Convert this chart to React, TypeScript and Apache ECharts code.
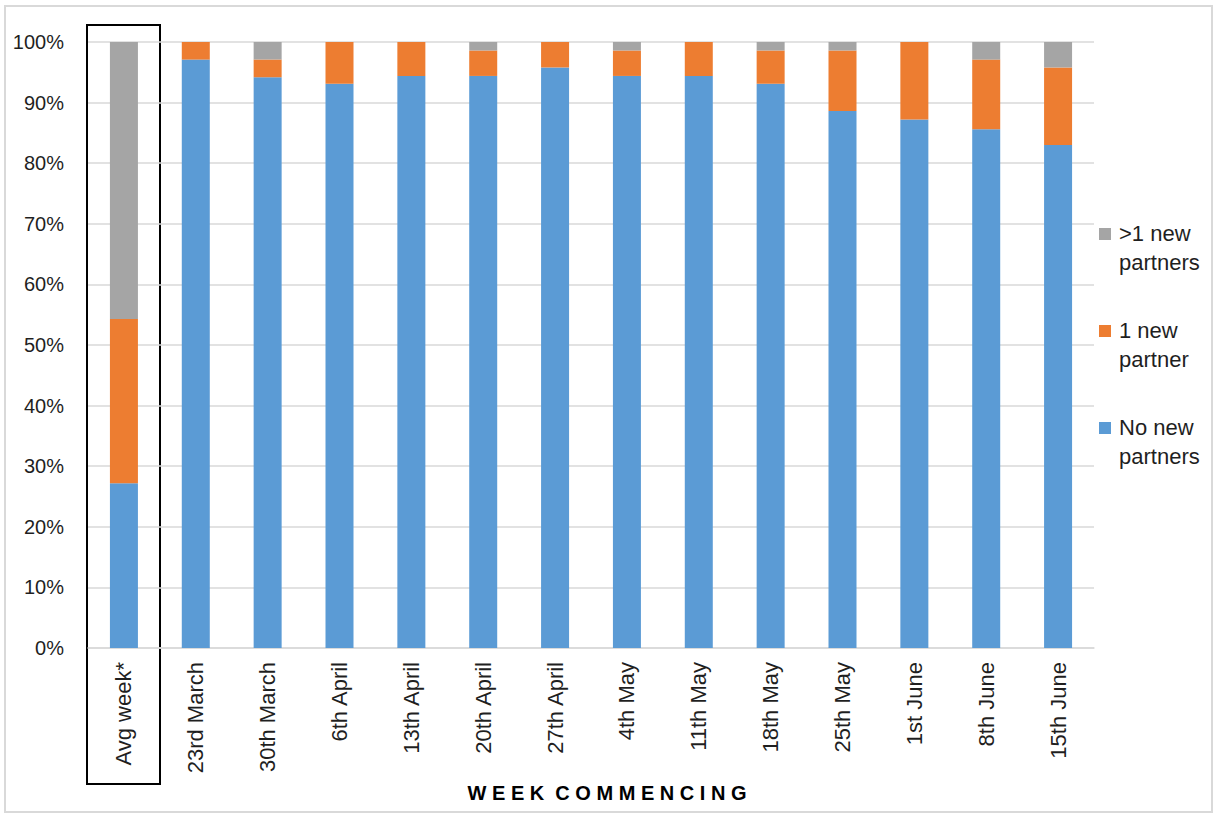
import React, { useEffect, useRef } from "react";
import * as echarts from "echarts";

// Week labels along the category axis
const categories = [
  "Avg week*",
  "23rd March",
  "30th March",
  "6th April",
  "13th April",
  "20th April",
  "27th April",
  "4th May",
  "11th May",
  "18th May",
  "25th May",
  "1st June",
  "8th June",
  "15th June",
];

// Share of respondents (%) per week
const noNewPartners = [27.2, 97.1, 94.2, 93.1, 94.4, 94.4, 95.8, 94.4, 94.4, 93.1, 88.6, 87.2, 85.6, 83.0];
const oneNewPartner = [27.1, 2.9, 2.9, 6.9, 5.6, 4.2, 4.2, 4.2, 5.6, 5.5, 10.0, 12.8, 11.5, 12.8];
const moreNewPartners = [45.7, 0, 2.9, 0, 0, 1.4, 0, 1.4, 0, 1.4, 1.4, 0, 2.9, 4.2];

const seriesNames = ["No new\npartners", "1 new\npartner", ">1 new\npartners"];
const seriesColors = ["#5B9BD5", "#ED7D31", "#A5A5A5"];

const FONT = "'Liberation Sans', Arial, sans-serif";
const TEXT = "#1f1f1f";

export default function App() {
  const ref = useRef<HTMLDivElement>(null);

  useEffect(() => {
    if (!ref.current) return;
    const chart = echarts.init(ref.current, undefined, { renderer: "svg" });

    const seriesData = [noNewPartners, oneNewPartner, moreNewPartners];

    // Legend entries, listed top to bottom as the stack reads
    const legendItems = [
      { name: seriesNames[2], color: seriesColors[2], y: 234 },
      { name: seriesNames[1], color: seriesColors[1], y: 331 },
      { name: seriesNames[0], color: seriesColors[0], y: 428 },
    ];

    const legendGraphics: any[] = [];
    legendItems.forEach((it) => {
      legendGraphics.push({
        type: "rect",
        shape: { x: 1099, y: it.y - 6, width: 12, height: 12 },
        style: { fill: it.color },
        silent: true,
      });
      legendGraphics.push({
        type: "text",
        x: 1119,
        y: it.y - 15,
        style: {
          text: it.name,
          font: `22px ${FONT}`,
          fill: TEXT,
          lineHeight: 29,
          textVerticalAlign: "top",
        },
        silent: true,
      });
    });

    chart.setOption({
      animation: false,
      backgroundColor: "#ffffff",
      grid: { left: 88, right: 123, top: 42, bottom: 166, containLabel: false },
      xAxis: {
        type: "category",
        data: categories,
        axisLine: { show: true, lineStyle: { color: "#d9d9d9", width: 1.5 } },
        axisTick: { show: false },
        axisLabel: {
          rotate: 90,
          margin: 14,
          interval: 0,
          color: TEXT,
          fontSize: 22,
          fontFamily: FONT,
        },
      },
      yAxis: {
        type: "value",
        min: 0,
        max: 100,
        interval: 10,
        axisLine: { show: false },
        axisTick: { show: false },
        splitLine: { lineStyle: { color: "#d9d9d9", width: 1.5 } },
        axisLabel: {
          formatter: "{value}%",
          margin: 24,
          color: TEXT,
          fontSize: 20,
          fontFamily: FONT,
        },
      },
      series: seriesData.map((d, i) => ({
        name: seriesNames[i],
        type: "bar",
        stack: "total",
        data: d,
        barWidth: 28,
        itemStyle: { color: seriesColors[i] },
        emphasis: { disabled: true },
      })),
      graphic: [
        // Chart area border
        {
          type: "rect",
          shape: { x: 5, y: 6, width: 1207, height: 806 },
          style: { fill: "none", stroke: "#d9d9d9", lineWidth: 2 },
          silent: true,
        },
        // Box highlighting the average-week column
        {
          type: "rect",
          shape: { x: 87, y: 25, width: 73, height: 759 },
          style: { fill: "none", stroke: "#000000", lineWidth: 2 },
          silent: true,
        },
        // Axis title
        {
          type: "text",
          x: 607,
          y: 793,
          style: {
            text: "W E E K  C O M M E N C I N G",
            font: `bold 20px ${FONT}`,
            fill: "#000000",
            textAlign: "center",
            textVerticalAlign: "middle",
          },
          silent: true,
        },
        ...legendGraphics,
      ],
    });

    return () => chart.dispose();
  }, []);

  return (
    <div
      ref={ref}
      style={{ position: "fixed", left: 0, top: 0, width: 1217, height: 814 }}
    />
  );
}
